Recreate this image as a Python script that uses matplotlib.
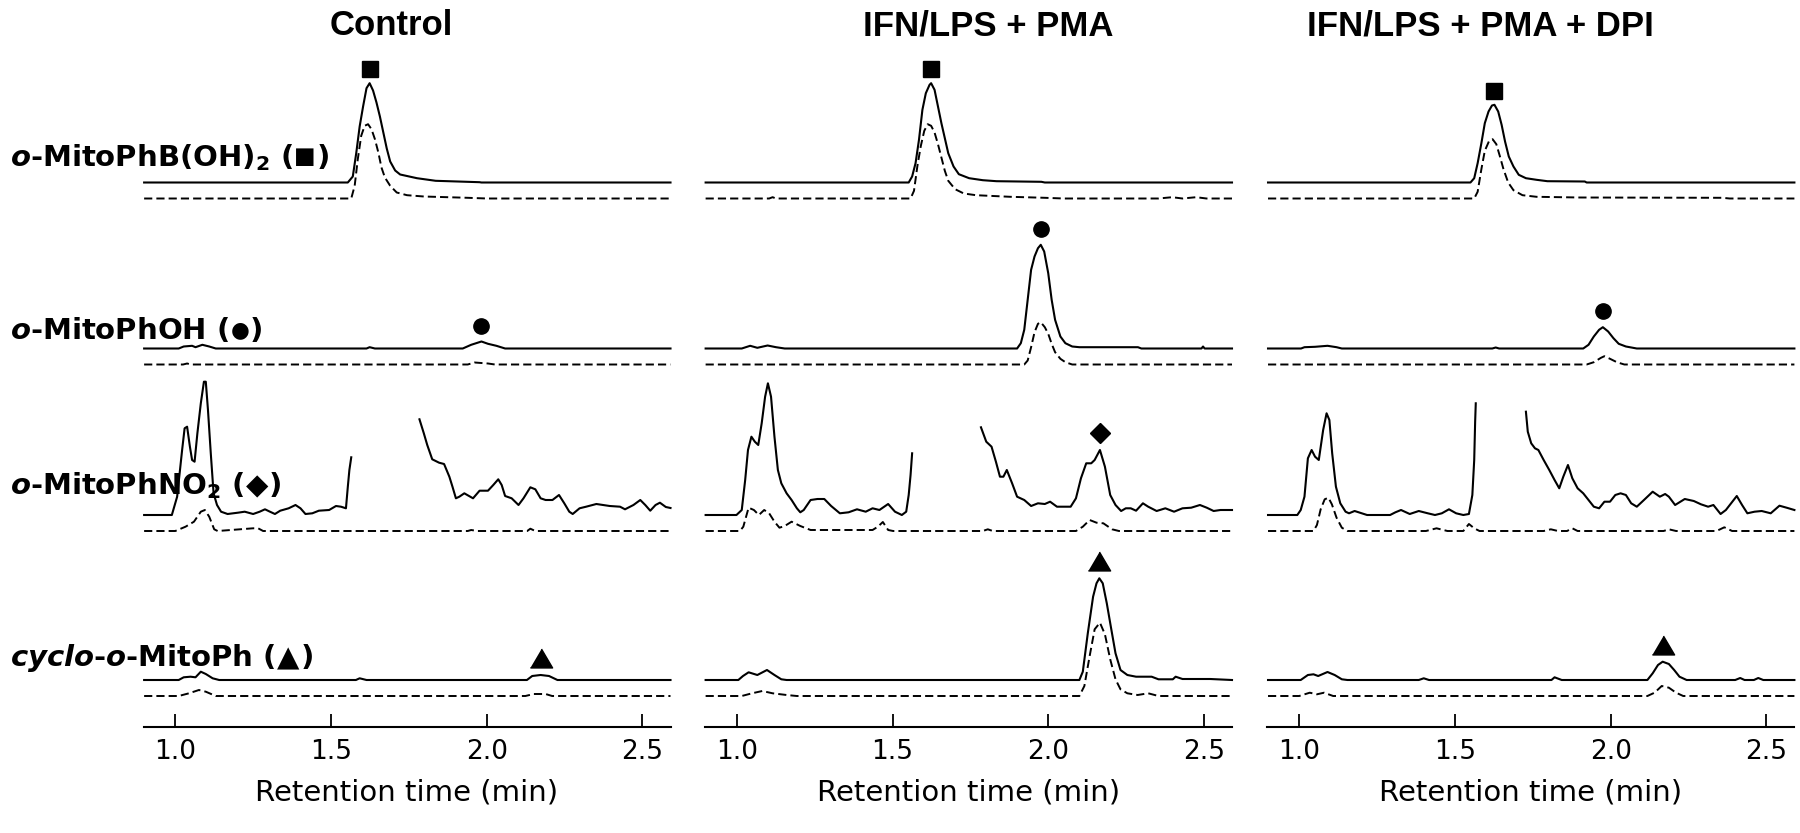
import numpy as np
import matplotlib.pyplot as plt

nan = np.nan

# analytes (one row each): label text, peak symbol and retention time (min)
label_prefix = [
    r"$\mathbfit{o}$-MitoPhB(OH)$_\mathbf{2}$ (",
    r"$\mathbfit{o}$-MitoPhOH (",
    r"$\mathbfit{o}$-MitoPhNO$_\mathbf{2}$ (",
    r"$\mathbfit{cyclo}$-$\mathbfit{o}$-MitoPh (",
]
label_symbol = ["■", "●", "◆", "▲"]
retention_times = [1.62, 1.98, 2.16, 2.17]
panel_titles = ["Control", "IFN/LPS + PMA", "IFN/LPS + PMA + DPI"]
# rows where the analyte peak is flagged, per panel
marked_rows = [[0, 1, 3], [0, 1, 2, 3], [0, 1, 3]]
x_ticks = [1.0, 1.5, 2.0, 2.5]
x_tick_labels = ["1.0", "1.5", "2.0", "2.5"]

# traces: (time min, signal height); solid and dashed (_d) channels
ctrl_r1 = [(0.90, 0), (1.554, 0), (1.570, 6), (1.581, 29.3), (1.592, 56), (1.603, 76), (1.614, 94.3),
           (1.624, 99.3), (1.635, 92), (1.646, 80), (1.657, 66), (1.668, 50), (1.679, 34), (1.690, 21),
           (1.706, 12), (1.722, 8), (1.776, 4.3), (1.836, 1.7), (1.977, 0.3), (1.983, 0), (2.59, 0)]
ctrl_r1_d = [(0.90, 0), (1.565, 0), (1.576, 12.7), (1.586, 39.3), (1.597, 62.7), (1.608, 72.7), (1.619, 74.3),
             (1.630, 69.3), (1.641, 59.3), (1.652, 46), (1.662, 31), (1.673, 21), (1.690, 12.7), (1.711, 6),
             (1.744, 3.3), (1.798, 2), (1.939, 0.7), (2.00, 0), (2.59, 0)]
ctrl_r2 = [(0.90, 0), (1.011, 0), (1.027, 2), (1.054, 2.7), (1.065, 1.3), (1.087, 3.7), (1.109, 2), (1.130, 0),
           (1.614, 0), (1.624, 1.3), (1.641, 0), (1.923, 0), (1.950, 3.7), (1.983, 7), (2.004, 4.7),
           (2.031, 2.7), (2.059, 0), (2.59, 0)]
ctrl_r2_d = [(0.90, 0), (1.025, 0), (1.038, 1), (1.050, 0), (1.939, 0), (1.961, 2), (2.004, 1), (2.026, 0),
             (2.59, 0)]
ctrl_r3 = [(0.90, 0), (0.989, 0), (1.006, 18.3), (1.022, 65), (1.030, 86.7), (1.038, 88.3), (1.047, 68.3),
           (1.054, 55), (1.062, 53.3), (1.071, 81.7), (1.082, 111.7), (1.092, 133.3), (1.098, 133.3),
           (1.105, 105), (1.114, 61.7), (1.123, 21.7), (1.134, 10), (1.147, 3.3), (1.168, 1), (1.201, 2.3),
           (1.223, 3.3), (1.250, 1), (1.271, 3.3), (1.288, 5.7), (1.304, 3.3), (1.320, 1), (1.337, 4.3),
           (1.364, 6.7), (1.386, 10), (1.402, 6.7), (1.418, 1), (1.440, 1.7), (1.461, 4.3), (1.494, 5),
           (1.516, 9), (1.532, 8.3), (1.548, 6.7), (1.554, 28.3), (1.559, 45), (1.565, 57.7), (nan, nan),
           (1.784, 95.7), (1.798, 81.7), (1.809, 70), (1.825, 55.7), (1.847, 52.3), (1.863, 51), (1.880, 38.3),
           (1.890, 28.3), (1.901, 16.7), (1.912, 18.3), (1.928, 21.7), (1.956, 16.7), (1.977, 24.3),
           (2.004, 24.3), (2.021, 30), (2.037, 35.7), (2.048, 30), (2.059, 19), (2.080, 16.7), (2.102, 10),
           (2.118, 16.7), (2.140, 27.7), (2.156, 25.7), (2.173, 16.7), (2.189, 15), (2.211, 15), (2.232, 20),
           (2.249, 11.7), (2.265, 3.3), (2.276, 1), (2.298, 6.7), (2.319, 8.3), (2.352, 11), (2.395, 9),
           (2.428, 8.3), (2.444, 5.7), (2.471, 10), (2.493, 15), (2.509, 10), (2.525, 4.3), (2.542, 10),
           (2.556, 12.3), (2.575, 8), (2.59, 7)]
ctrl_r3_d = [(0.90, 0), (1.000, 0), (1.033, 4.3), (1.060, 9.3), (1.082, 19.3), (1.095, 21), (1.109, 14.3),
             (1.125, 1.7), (1.136, 0), (1.250, 2.7), (1.266, 2.7), (1.282, 0), (1.939, 0), (1.950, 1),
             (1.970, 0), (2.130, 0), (2.140, 2.3), (2.156, 0), (2.59, 0)]
ctrl_r4 = [(0.90, 0), (1.011, 0), (1.027, 2.7), (1.049, 3.3), (1.065, 2.7), (1.082, 8.3), (1.098, 6),
           (1.120, 1.7), (1.141, 0), (1.580, 0), (1.592, 1.7), (1.614, 0), (2.129, 0), (2.146, 4), (2.173, 5),
           (2.200, 4), (2.227, 0), (2.59, 0)]
ctrl_r4_d = [(0.90, 0), (1.011, 0), (1.044, 2.7), (1.076, 6), (1.098, 4.3), (1.130, 0), (2.124, 0),
             (2.151, 2), (2.189, 2), (2.210, 0), (2.59, 0)]

pma_r1 = [(0.90, 0), (1.552, 0), (1.563, 6), (1.574, 19.3), (1.585, 42.7), (1.596, 72.7), (1.607, 89.3),
          (1.619, 97.7), (1.624, 99.3), (1.635, 92.7), (1.646, 76), (1.657, 59.3), (1.668, 44.3), (1.679, 29.3),
          (1.696, 16), (1.713, 8.3), (1.746, 4.3), (1.790, 2.3), (1.834, 1.3), (1.978, 0.7), (1.989, 0),
          (2.59, 0)]
pma_r1_d = [(0.90, 0), (1.104, 0), (1.115, 1.3), (1.126, 0), (1.558, 0), (1.569, 7.7), (1.580, 32.7),
            (1.591, 52.7), (1.602, 67.7), (1.613, 74.3), (1.624, 72.7), (1.635, 66), (1.646, 54.3), (1.657, 41),
            (1.668, 27.7), (1.679, 17.7), (1.701, 9.3), (1.729, 5), (1.768, 3.3), (1.878, 1.7), (1.989, 0.7),
            (2.05, 0), (2.354, 0), (2.398, 1.3), (2.431, 0), (2.475, 1.3), (2.508, 0), (2.59, 0)]
pma_r2 = [(0.90, 0), (1.016, 0), (1.043, 2.7), (1.066, 0.7), (1.099, 3), (1.126, 1.3), (1.154, 0), (1.900, 0),
          (1.912, 5.3), (1.923, 18.7), (1.934, 48.7), (1.945, 78.7), (1.956, 92), (1.967, 100.3),
          (1.976, 103.7), (1.987, 97), (2.000, 75.3), (2.011, 48.7), (2.022, 28.7), (2.039, 12), (2.055, 5.3),
          (2.077, 2), (2.100, 1.3), (2.288, 1.3), (2.299, 0), (2.492, 0), (2.497, 2), (2.502, 0), (2.59, 0)]
pma_r2_d = [(0.90, 0), (1.923, 0), (1.934, 4), (1.945, 17.3), (1.956, 32.3), (1.967, 40.7), (1.976, 42.3),
            (1.989, 37.3), (2.000, 30.7), (2.011, 20.7), (2.022, 12.3), (2.039, 5.7), (2.055, 2.3), (2.077, 0),
            (2.59, 0)]
pma_r3 = [(0.90, 0), (0.999, 0), (1.016, 5), (1.027, 35), (1.036, 65), (1.047, 78.3), (1.058, 73.3),
          (1.069, 70), (1.080, 91.7), (1.091, 118.3), (1.100, 131.7), (1.110, 118.3), (1.121, 78.3),
          (1.132, 45), (1.143, 31.7), (1.160, 21.7), (1.176, 15), (1.193, 6.7), (1.204, 2.7), (1.215, 5),
          (1.237, 15), (1.259, 16), (1.281, 16), (1.303, 9), (1.331, 1.7), (1.359, 2.7), (1.386, 5.7),
          (1.414, 3.3), (1.436, 6.7), (1.458, 5), (1.486, 11), (1.508, 3.3), (1.530, 0), (1.544, 3.3),
          (1.552, 20), (1.558, 40), (1.563, 61.7), (nan, nan), (1.784, 87.7), (1.801, 73.3), (1.818, 68.3),
          (1.832, 53.3), (1.845, 38.3), (1.856, 38.3), (1.867, 45), (1.884, 31.7), (1.900, 18.3), (1.923, 15),
          (1.945, 9), (1.967, 11.7), (1.989, 11), (2.006, 13.3), (2.028, 8.3), (2.072, 8.3), (2.089, 16.7),
          (2.105, 36.7), (2.122, 51.7), (2.138, 51.7), (2.149, 55), (2.166, 65), (2.182, 48.3), (2.199, 20),
          (2.216, 10), (2.234, 4), (2.249, 6.7), (2.265, 6.7), (2.282, 4.3), (2.304, 11.7), (2.321, 8.3),
          (2.348, 4), (2.376, 6.7), (2.404, 3.3), (2.431, 6.7), (2.459, 7.3), (2.487, 10), (2.509, 7.3),
          (2.531, 4), (2.553, 5), (2.59, 5)]
pma_r3_d = [(0.90, 0), (1.010, 0), (1.021, 4.3), (1.038, 23.3), (1.055, 21), (1.071, 16), (1.088, 21),
            (1.104, 17.7), (1.121, 9.3), (1.137, 3.3), (1.154, 5), (1.176, 9.3), (1.204, 5), (1.237, 1),
            (1.436, 1), (1.453, 4.3), (1.469, 9), (1.486, 1), (1.502, 0), (1.790, 0), (1.806, 1.7), (1.822, 0),
            (2.089, 0), (2.111, 4.3), (2.133, 11), (2.155, 8.3), (2.177, 7.7), (2.205, 1.7), (2.227, 0),
            (2.59, 0)]
pma_r4 = [(0.90, 0), (1.005, 0), (1.020, 4), (1.038, 7.7), (1.066, 5), (1.097, 10), (1.121, 5), (1.143, 0.7),
          (1.160, 0), (2.100, 0), (2.111, 8.3), (2.127, 46.7), (2.144, 83.3), (2.155, 96.7), (2.164, 101.7),
          (2.175, 96.7), (2.188, 76.7), (2.201, 53.3), (2.216, 26.7), (2.232, 10), (2.254, 5), (2.282, 3.3),
          (2.332, 3.3), (2.354, 0.7), (2.400, 0.7), (2.409, 3.3), (2.431, 1), (2.520, 1), (2.59, 0)]
pma_r4_d = [(0.90, 0), (1.016, 0), (1.049, 2.7), (1.082, 5), (1.115, 2.7), (1.160, 1), (1.193, 0), (2.100, 0),
            (2.116, 10), (2.133, 40), (2.149, 66.7), (2.166, 73.3), (2.182, 61.7), (2.199, 36.7), (2.216, 16.7),
            (2.232, 6.7), (2.254, 2.7), (2.287, 1), (2.321, 2.7), (2.354, 0), (2.59, 0)]

dpi_r1 = [(0.90, 0), (1.550, 0), (1.562, 4.3), (1.573, 19.3), (1.585, 39.3), (1.596, 59.3), (1.608, 71),
          (1.619, 77), (1.627, 77.7), (1.639, 71), (1.650, 57.7), (1.661, 41), (1.673, 26), (1.688, 16),
          (1.705, 7.7), (1.728, 4.3), (1.762, 2.7), (1.797, 1.3), (1.917, 1), (1.923, 0), (2.59, 0)]
dpi_r1_d = [(0.90, 0), (1.562, 0), (1.573, 6.7), (1.585, 29.3), (1.596, 47.7), (1.610, 57.7), (1.621, 59.3),
            (1.633, 54.3), (1.644, 42.7), (1.656, 29.3), (1.671, 16), (1.688, 8.3), (1.717, 3.3), (1.762, 1.7),
            (1.900, 1), (2.359, 0.7), (2.382, 0), (2.59, 0)]
dpi_r2 = [(0.90, 0), (1.006, 0), (1.017, 1.3), (1.051, 1.7), (1.091, 2.7), (1.120, 1.3), (1.137, 0),
          (1.620, 0), (1.631, 1), (1.642, 0), (1.912, 0), (1.929, 3.7), (1.946, 12), (1.963, 18.7),
          (1.975, 21.3), (1.992, 17), (2.009, 10.3), (2.026, 4.7), (2.049, 2), (2.084, 0), (2.59, 0)]
dpi_r2_d = [(0.90, 0), (1.923, 0), (1.946, 2.3), (1.969, 6.7), (1.980, 8.3), (1.998, 5.7), (2.020, 2.3),
            (2.044, 0), (2.59, 0)]
dpi_r3 = [(0.90, 0), (0.994, 0), (1.005, 5), (1.017, 18.3), (1.028, 56.7), (1.040, 65), (1.051, 58.3),
          (1.063, 55), (1.077, 85), (1.088, 101.7), (1.097, 95), (1.106, 61.7), (1.118, 28.3), (1.132, 11.7),
          (1.149, 3.3), (1.160, 1.7), (1.178, 4), (1.195, 2.3), (1.218, 0), (1.292, 0), (1.309, 2.7),
          (1.327, 5), (1.355, 1), (1.384, 4), (1.413, 1.7), (1.436, 0), (1.458, 1.7), (1.481, 5.7),
          (1.504, 1.7), (1.527, 0), (1.545, 1), (1.556, 20), (1.562, 55), (1.565, 93.3), (1.567, 111.7),
          (nan, nan), (1.728, 103.3), (1.734, 83.3), (1.745, 71.7), (1.757, 66.7), (1.768, 65), (1.785, 55),
          (1.803, 45), (1.820, 35), (1.835, 26.7), (1.848, 38.3), (1.863, 50), (1.877, 36.7), (1.894, 26.7),
          (1.912, 21.7), (1.929, 15), (1.946, 8.3), (1.963, 6.7), (1.980, 13.3), (1.998, 13.3), (2.015, 20),
          (2.032, 21.7), (2.049, 20), (2.066, 11.7), (2.084, 8.3), (2.107, 15), (2.135, 23.3), (2.158, 18.3),
          (2.175, 21), (2.187, 18.3), (2.207, 10), (2.238, 16), (2.267, 14), (2.290, 10.7), (2.313, 8.3),
          (2.330, 10), (2.353, 1), (2.370, 5), (2.405, 19), (2.422, 10), (2.439, 1.7), (2.462, 3.3),
          (2.485, 4), (2.514, 1.7), (2.542, 9.3), (2.565, 7.3), (2.59, 5)]
dpi_r3_d = [(0.90, 0), (1.046, 0), (1.057, 6), (1.069, 21.7), (1.082, 31.7), (1.094, 33.3), (1.105, 26.7),
            (1.120, 13.3), (1.137, 3.3), (1.155, 0), (1.407, 0), (1.441, 2.7), (1.476, 0), (1.527, 0),
            (1.545, 7), (1.562, 2.7), (1.579, 0), (1.785, 0), (1.808, 1.7), (1.831, 0), (1.860, 0),
            (1.877, 2.7), (1.894, 0), (2.170, 0), (2.187, 1.7), (2.210, 0), (2.340, 0), (2.365, 3.7),
            (2.390, 0), (2.59, 0)]
dpi_r4 = [(0.90, 0), (1.005, 0), (1.028, 5), (1.046, 5.7), (1.061, 4), (1.091, 8), (1.114, 5), (1.137, 0.7),
          (1.155, 0), (1.384, 0), (1.400, 1.7), (1.417, 0), (1.810, 0), (1.820, 2.7), (1.843, 0), (2.118, 0),
          (2.135, 6.7), (2.152, 15), (2.167, 18.3), (2.187, 16), (2.204, 10), (2.221, 3.3), (2.244, 0),
          (2.400, 0), (2.416, 2), (2.430, 0), (2.460, 0), (2.474, 2), (2.490, 0), (2.59, 0)]
dpi_r4_d = [(0.90, 0), (1.000, 0), (1.034, 3.3), (1.057, 1.7), (1.080, 3.3), (1.109, 0), (2.118, 0),
            (2.141, 3.3), (2.164, 10), (2.187, 8.3), (2.210, 3.3), (2.233, 0), (2.59, 0)]

panel_solid = [[ctrl_r1, ctrl_r2, ctrl_r3, ctrl_r4],
               [pma_r1, pma_r2, pma_r3, pma_r4],
               [dpi_r1, dpi_r2, dpi_r3, dpi_r4]]
panel_dashed = [[ctrl_r1_d, ctrl_r2_d, ctrl_r3_d, ctrl_r4_d],
                [pma_r1_d, pma_r2_d, pma_r3_d, pma_r4_d],
                [dpi_r1_d, dpi_r2_d, dpi_r3_d, dpi_r4_d]]

# layout (pixels of the 1800x833 canvas)
W, H = 1800, 833
ax_left_px = [143.5, 705, 1267.4]
ax_width_px = 527
ax_bottom_px = 726.5
ax_top_px = 40
row_base = [544, 378, 211.5, 46.5]   # solid baseline of each row, in px above the axis
dash_drop = 16
title_x_px = [391, 988, 1480]
label_base_px = [165.8, 339, 494, 666]
symbol_fontsize = [16.5, 15.5, 21, 21]
symbol_raise_px = [3, 3, 0, 0]

tri = [(-1, -0.85), (1, -0.85), (0, 0.85)]
marker_shapes = ['s', 'o', 'D', tri]
marker_sizes = [11, 11, 10.5, 16]
marker_gap = [14, 16, 17, 17]

fig = plt.figure(figsize=(18, 8.33), dpi=100)

for p in range(3):
    ax = fig.add_axes([ax_left_px[p] / W, 1 - ax_bottom_px / H,
                       ax_width_px / W, (ax_bottom_px - ax_top_px) / H])
    ax.set_xlim(0.898, 2.59)
    ax.set_ylim(0, ax_bottom_px - ax_top_px)

    for r in range(4):
        t, h = np.array(panel_solid[p][r], dtype=float).T
        ax.plot(t, row_base[r] + h, color='black', lw=1.5, clip_on=False)
        td, hd = np.array(panel_dashed[p][r], dtype=float).T
        ax.plot(td, row_base[r] - dash_drop + hd, color='black', lw=1.4,
                ls=(0, (4.2, 2.1)), clip_on=False)

    # mark the analyte peak on top of the solid trace
    for r in marked_rows[p]:
        t, h = np.array(panel_solid[p][r], dtype=float).T
        near = np.abs(t - retention_times[r]) < 0.04
        i = np.argmax(np.where(near, h, -np.inf))
        ax.plot(t[i], row_base[r] + h[i] + marker_gap[r], marker=marker_shapes[r],
                ms=marker_sizes[r], color='black', ls='none', clip_on=False)

    for side in ['top', 'left', 'right']:
        ax.spines[side].set_visible(False)
    ax.spines['bottom'].set_linewidth(1.5)
    ax.set_yticks([])
    ax.set_xticks(x_ticks)
    ax.set_xticklabels(x_tick_labels)
    ax.tick_params(axis='x', direction='in', length=9.4, width=1.3, labelsize=19, pad=9)

    ax.text(0.5, (ax_bottom_px - 800) / (ax_bottom_px - ax_top_px), "Retention time (min)",
            transform=ax.transAxes, ha='center', va='baseline', fontsize=21)

    fig.text(title_x_px[p] / W, 1 - 35 / H, panel_titles[p], ha='center', va='baseline',
             fontsize=25, fontweight='bold', family='Liberation Sans')

# row labels: text, then a smaller peak symbol, then the closing parenthesis
renderer = fig.canvas.get_renderer()
for r in range(4):
    y = 1 - label_base_px[r] / H
    t1 = fig.text(10 / W, y, label_prefix[r], ha='left', va='baseline',
                  fontsize=21, fontweight='bold')
    x1 = t1.get_window_extent(renderer).x1 / W
    t2 = fig.text(x1 + 1 / W, y + symbol_raise_px[r] / H, label_symbol[r], ha='left', va='baseline',
                  fontsize=symbol_fontsize[r], fontweight='bold')
    x2 = t2.get_window_extent(renderer).x1 / W
    fig.text(x2 + 1 / W, y, ")", ha='left', va='baseline', fontsize=21, fontweight='bold')

fig.savefig("out.png", dpi=100)
